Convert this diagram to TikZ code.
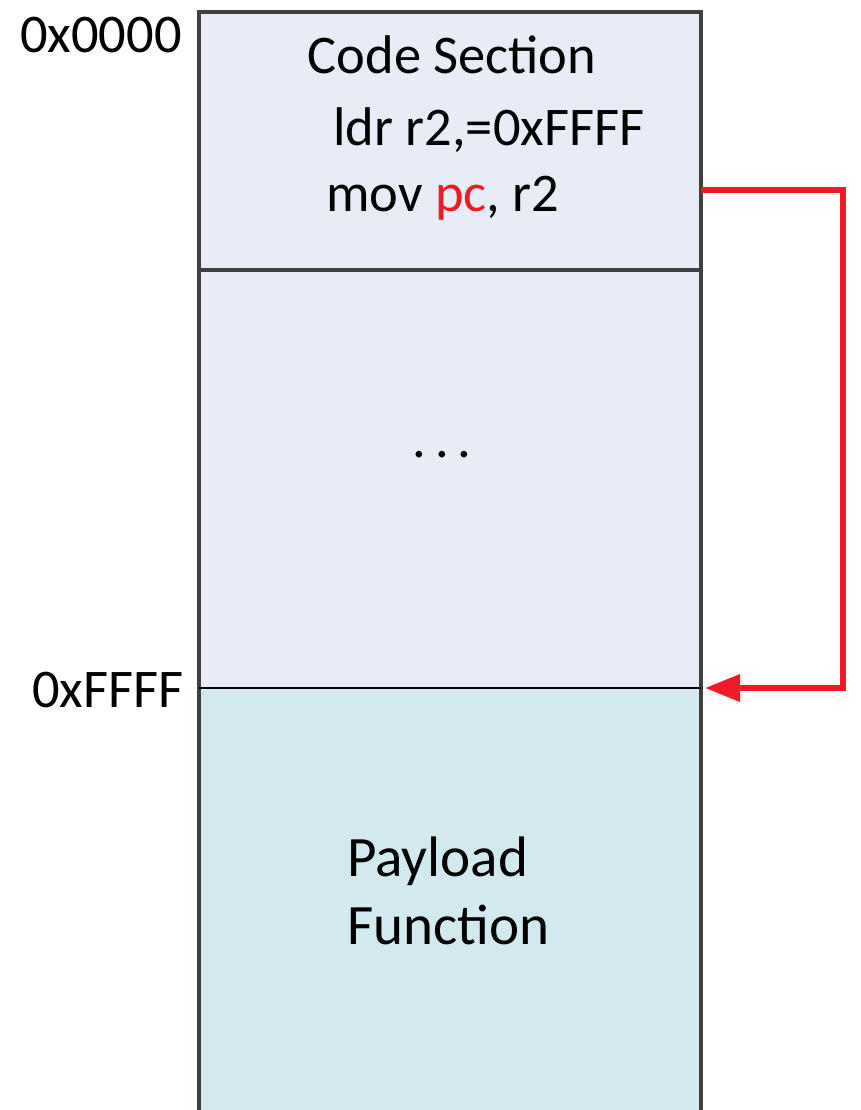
\documentclass[tikz,border=0pt]{standalone}
\usepackage{fontspec}
\setmainfont{Carlito}
\usetikzlibrary{arrows.meta}
\definecolor{codefill}{HTML}{E7ECF6}
\definecolor{payfill}{HTML}{D2E9EF}
\definecolor{jumpred}{HTML}{ED1C24}
\definecolor{edge}{HTML}{404040}
\tikzset{
  memtext/.style={font=\fontsize{31}{38.5}\selectfont, inner sep=0pt},
  memline/.style={edge, line width=2pt},
  jump/.style={jumpred, line width=3.4pt, -{Triangle[length=20pt,width=15pt]}}
}
\begin{document}
\begin{tikzpicture}[x=0.02cm,y=-0.02cm]
    %initialisation
    \useasboundingbox (0,0) rectangle (860,1110);
    %definitions
    \coordinate (topL) at (199,12);
    \coordinate (topR) at (701,12);
    \coordinate (codeL) at (199,270);
    \coordinate (codeR) at (701,270);
    \coordinate (endL) at (199,688);
    \coordinate (endR) at (701,688);
    \coordinate (botL) at (199,1112);
    \coordinate (botR) at (701,1112);
    \coordinate (jumpfrom) at (701,190);
    \coordinate (jumpto) at (705,688);
    %regions
    \fill[codefill] (topL) rectangle (endR);
    \fill[payfill] (endL) rectangle (botR);
    %drawing
    \draw[memline] (botL) -- (topL) -- (topR) -- (botR);
    \draw[memline] (codeL) -- (codeR);
    \draw[black, line width=1.4pt] (endL) -- (endR);
    %label
    \node[memtext] (code) at (452,55) {Code Section};
    \node[memtext, anchor=west] (ldr) at (333,130) {ldr r2,=0xFFFF};
    \node[memtext, anchor=west] (mov) at (326,198) {mov \textcolor{jumpred}{pc}, r2};
    \node[memtext] (dots) at (442,455) {.\,.\,.};
    \node[memtext, font=\fontsize{32.5}{39}\selectfont, align=left, anchor=west] (payload) at (347,891) {Payload\\Function};
    \node[memtext, anchor=east] (start) at (182,35) {0x0000};
    \node[memtext, anchor=east] (target) at (184,690) {0xFFFF};
    %jump
    \draw[jump] (jumpfrom) -- ++(142,0) |- (jumpto);
\end{tikzpicture}
\end{document}
